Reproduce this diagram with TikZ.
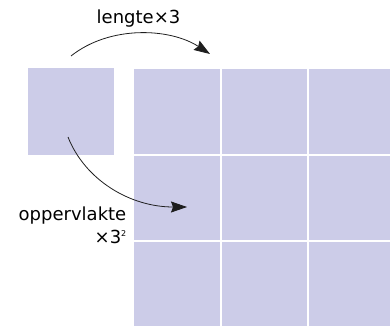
\documentclass[tikz,border=0pt]{standalone}
\usepackage{fontspec}
\setmainfont{DejaVu Sans}
\usetikzlibrary{arrows.meta}
\definecolor{tile}{RGB}{204,204,232}
\definecolor{ink}{RGB}{30,30,30}
\tikzset{
  tilebox/.style={fill=tile, draw=none, inner sep=0pt, outer sep=0pt},
  gapline/.style={draw=white, line width=2pt},
  textlabel/.style={inner sep=0pt, font=\fontsize{18}{21}\selectfont, text=black},
  curvedarrow/.style={draw=ink, line width=0.8pt, -{Stealth[length=16pt,width=11pt,inset=2pt]}}
}
\begin{document}
\begin{tikzpicture}[x=1pt, y=-1pt]
  \useasboundingbox (0,0) rectangle (390,326);

  % single unit square
  \node[tilebox, minimum width=86pt, minimum height=86.5pt, anchor=north west] (unit) at (28,68.5) {};

  % 3x3 grid of squares
  \node[tilebox, minimum width=256pt, minimum height=257pt, anchor=north west] (grid) at (134,69) {};
  \draw[gapline] (220.7,69) -- (220.7,326);
  \draw[gapline] (307.5,69) -- (307.5,326);
  \draw[gapline] (134,155) -- (390,155);
  \draw[gapline] (134,241.3) -- (390,241.3);

  % arrow ends
  \coordinate (topstart) at (71,56);
  \coordinate (topend) at (210,54);
  \coordinate (lowstart) at (68,137);
  \coordinate (lowend) at (187,207);

  \draw[curvedarrow] (topstart) .. controls (110,25) and (170,28) .. (topend);
  \draw[curvedarrow] (lowstart) .. controls (85,180) and (130,207) .. (lowend);

  % labels
  \node[textlabel, anchor=base] (len) at (138.5,24) {lengte×3};
  \node[textlabel, anchor=base east] (area) at (126.5,220) {oppervlakte};
  \node[textlabel, anchor=base east] (factor) at (126.5,243) {×3\raisebox{6.5pt}{\fontsize{8}{8}\selectfont 2}};
\end{tikzpicture}
\end{document}
